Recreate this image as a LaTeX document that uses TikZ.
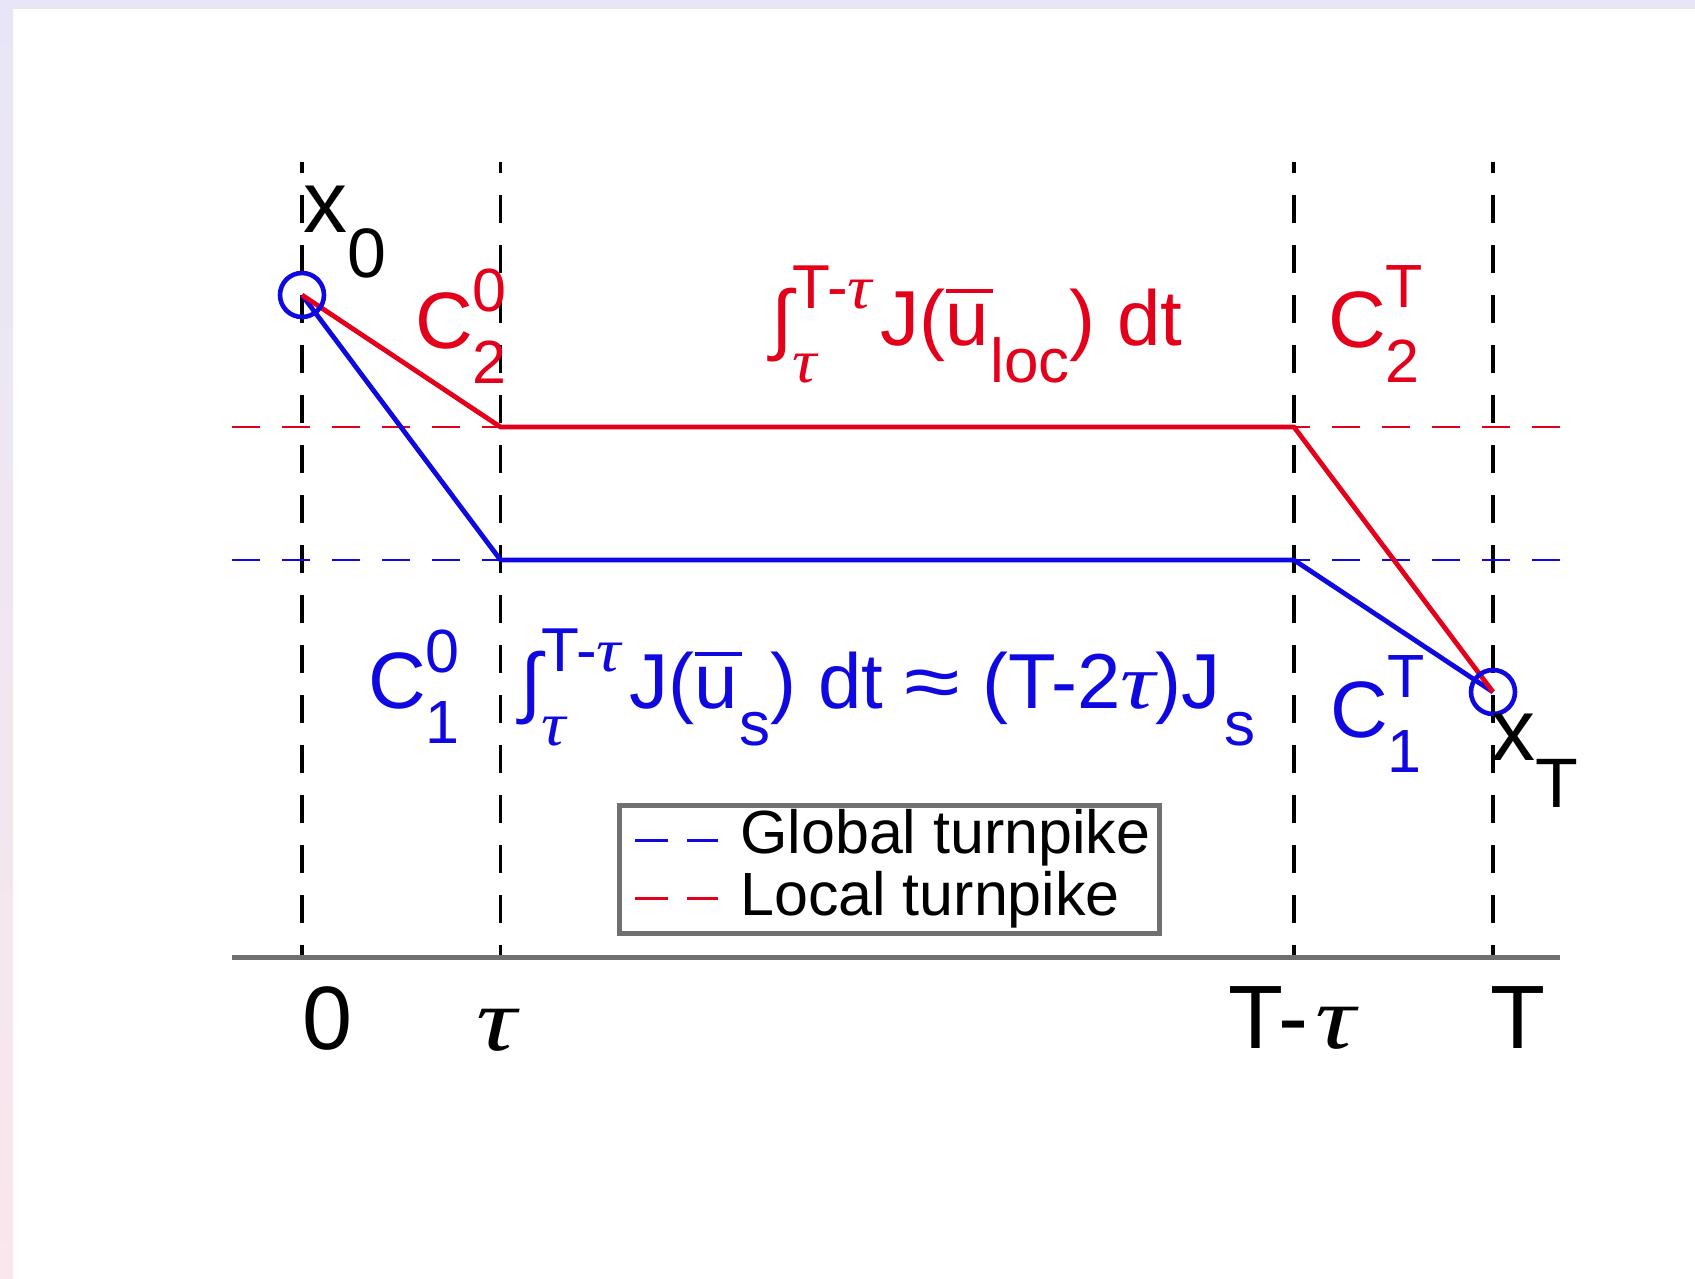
\documentclass[tikz,border=0pt]{standalone}
\usepackage{graphicx}
\usepackage{fontspec}
\setmainfont{Liberation Sans}
\newfontfamily\tauf{Liberation Serif}
\definecolor{myred}{RGB}{228,0,26}
\definecolor{myblue}{RGB}{16,8,225}
\definecolor{axgray}{RGB}{112,112,112}
\definecolor{bandtop}{RGB}{232,230,246}
\definecolor{bandbot}{RGB}{250,230,236}
\newcommand\fsz[1]{\fontsize{#1}{#1}\selectfont}
\newcommand\tu{\scalebox{1.25}[1]{\tauf\itshape τ}}
\newcommand\tus{\scalebox{1.1}[1]{\tauf\itshape τ}}
\newcommand\apx{\scalebox{1.3}[1]{≈}}
\newcommand\scripts[5]{{\fsz{#1}\setbox0\hbox{#5}\setbox2\hbox{#4}\dimen0=\wd0 \ifdim\wd2>\dimen0 \dimen0=\wd2 \fi\rlap{\raise#2pt\box0}\rlap{\lower#3pt\box2}\hskip\dimen0}}
\newcommand\ubar{\leavevmode\rlap{\hspace{0.01em}\raisebox{0.67em}{\rule{0.6em}{0.045em}}}u}
\begin{document}
\begin{tikzpicture}[x=1pt,y=-1pt,
  vline/.style={line width=3.4pt,black,dash pattern=on 28pt off 22pt,dash phase=17pt},
  hdash/.style={line width=2.8pt,dash pattern=on 28pt off 22pt},
  traj/.style={line width=4.8pt,line join=round},
  lbl/.style={inner sep=0pt,anchor=base west},
  endpt/.style={circle,draw=myblue,line width=4.6pt,minimum size=44pt,inner sep=0pt}]
\useasboundingbox (0,0) rectangle (1695,1279);
\fill[white] (0,0) rectangle (1695,1279);
\fill[bandtop] (0,0) rectangle (1695,9);
\shade[top color=bandtop,bottom color=bandbot] (0,9) rectangle (13,1279);

% coordinates
\coordinate (v0t) at (302,162);  \coordinate (v0b) at (302,957);
\coordinate (v1t) at (500.5,162); \coordinate (v1b) at (500.5,957);
\coordinate (v2t) at (1294,162); \coordinate (v2b) at (1294,957);
\coordinate (v3t) at (1493,162); \coordinate (v3b) at (1493,957);
\coordinate (rl) at (232,427); \coordinate (rr) at (1563,427);
\coordinate (bl) at (232,560); \coordinate (br) at (1563,560);
\coordinate (axl) at (232,957); \coordinate (axr) at (1560,957);
\coordinate (s) at (302,295);
\coordinate (e) at (1493,692);
\coordinate (r1) at (500.5,427); \coordinate (r2) at (1294,427);
\coordinate (b1) at (500.5,560); \coordinate (b2) at (1294,560);

% vertical dashed lines
\draw[vline] (v0t) -- (v0b);
\draw[vline] (v1t) -- (v1b);
\draw[vline] (v2t) -- (v2b);
\draw[vline] (v3t) -- (v3b);

% turnpike levels
\draw[hdash,myred] (rl) -- (rr);
\draw[hdash,myblue] (bl) -- (br);

% trajectories
\draw[traj,myblue] (s) -- (b1) -- (b2) -- (e);
\draw[traj,myred] (s) -- (r1) -- (r2) -- (e);

% end point circles
\node[endpt] (c0) at (s) {};
\node[endpt] (cT) at (e) {};

% axis
\draw[line width=5pt,axgray] (axl) -- (axr);

% labels
\node[lbl,font=\fsz{88}] (x0) at (303,232) {x\scripts{70}{0}{45}{0}{}};
\node[lbl,font=\fsz{88}] (xT) at (1491,760) {x\scripts{70}{0}{47}{T}{}};
\node[lbl,font=\fsz{80},text=myred] (c20) at (415,348) {C\scripts{61}{37}{35}{2}{0}};
\node[lbl,font=\fsz{80},text=myred] (c2T) at (1328,347) {C\scripts{61}{40}{35}{2}{T}};
\node[lbl,font=\fsz{80},text=myblue] (c10) at (368,708) {C\scripts{61}{36}{35}{1}{0}};
\node[lbl,font=\fsz{80},text=myblue] (c1T) at (1330,737) {C\scripts{61}{40}{35}{1}{T}};
\node[lbl,font=\fsz{78},text=myred] (iloc) at (771,345)
  {∫\scripts{62}{37}{37}{\tus}{T-\tus}\hspace{8pt}J(\ubar\hspace{2pt}\scripts{62}{0}{37}{loc}{}) dt};
\node[lbl,font=\fsz{78},text=myblue] (is) at (520,708)
  {∫\scripts{62}{37}{37}{\tus}{T-\tus}\hspace{8pt}J(\ubar\hspace{2pt}\scripts{62}{0}{37}{s}{}) dt \apx\ (T-2\tu)J\hspace{4pt}\scripts{62}{0}{37}{s}{}};

% tick labels
\node[lbl,font=\fsz{90}] (t0) at (302,1049) {0};
\node[lbl,font=\fsz{90}] (t1) at (476,1050) {\tu};
\node[lbl,font=\fsz{90}] (t2) at (1228,1048) {T-\hspace{7pt}\tu};
\node[lbl,font=\fsz{90}] (t3) at (1490,1048) {T};

% legend
\draw[line width=5pt,axgray,fill=white] (619,805) rectangle (1159,933);
\coordinate (lg1a) at (635,840); \coordinate (lg1b) at (718,840);
\coordinate (lg2a) at (635,898); \coordinate (lg2b) at (718,898);
\draw[line width=3pt,myblue,dash pattern=on 33pt off 19pt] (lg1a) -- (lg1b);
\draw[line width=3pt,myred,dash pattern=on 33pt off 19pt] (lg2a) -- (lg2b);
\node[lbl,font=\fsz{61}] (lgg) at (740,853) {Global turnpike};
\node[lbl,font=\fsz{61}] (lgl) at (740,915) {Local turnpike};
\end{tikzpicture}
\end{document}
